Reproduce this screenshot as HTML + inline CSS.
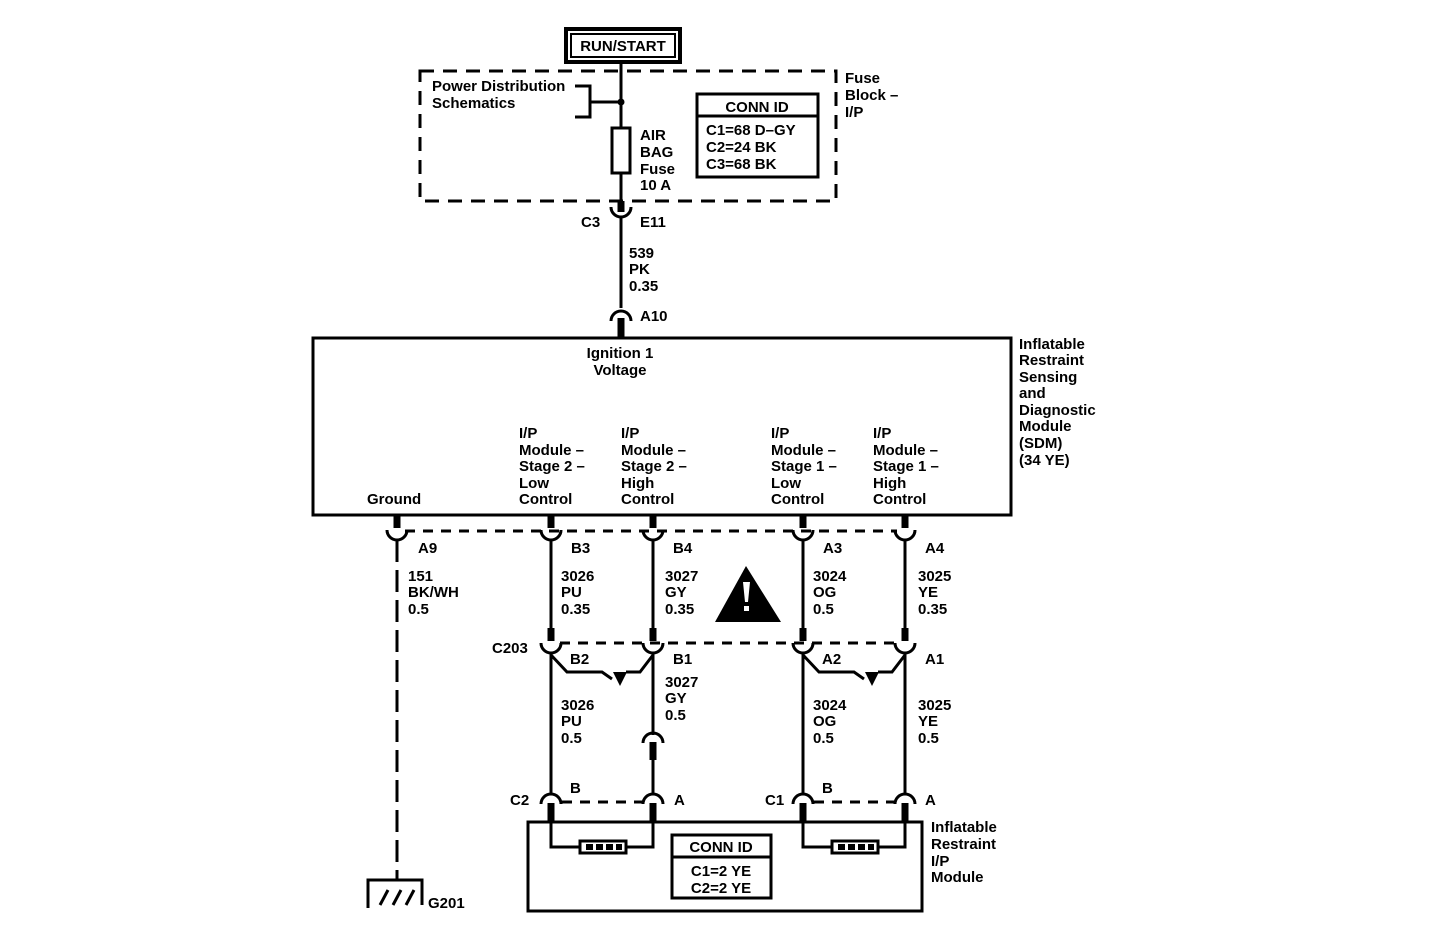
<!DOCTYPE html>
<html><head><meta charset="utf-8"><style>
html,body{margin:0;padding:0;background:#fff;}
svg{display:block}
text{font-family:"Liberation Sans",Arial,sans-serif;font-size:15px;fill:#000;font-weight:bold;}
</style></head><body>
<svg width="1440" height="934" viewBox="0 0 1440 934" xmlns="http://www.w3.org/2000/svg">
<g stroke="#000" fill="none" stroke-width="3">
<rect x="566" y="29" width="114" height="33" stroke-width="4"/>
<rect x="571" y="34" width="104" height="23" stroke-width="2"/>
<rect x="420" y="71" width="416" height="130" stroke-dasharray="14,9"/>
<line x1="621" y1="62" x2="621" y2="128"/>
<line x1="621" y1="173" x2="621" y2="201"/>
<rect x="612" y="128" width="18" height="45"/>
<polyline points="575,86 590,86 590,117 575,117"/>
<line x1="590" y1="102" x2="621" y2="102"/>
<rect x="697" y="94" width="121" height="83"/>
<line x1="697" y1="116" x2="818" y2="116"/>
<line x1="621" y1="201" x2="621" y2="212" stroke-width="7"/>
<path d="M611,207 A10,10 0 0 0 631,207"/>
<line x1="621" y1="217" x2="621" y2="308"/>
<path d="M611,321 A10,10 0 0 1 631,321"/>
<line x1="621" y1="318" x2="621" y2="337" stroke-width="7"/>
<rect x="313" y="338" width="698" height="177"/>
<line x1="405" y1="531" x2="897" y2="531" stroke-dasharray="10,8"/>
<line x1="560" y1="643" x2="897" y2="643" stroke-dasharray="10,8"/>
<line x1="562" y1="802" x2="645" y2="802" stroke-dasharray="10,8"/>
<line x1="814" y1="802" x2="897" y2="802" stroke-dasharray="10,8"/>
<line x1="397" y1="515" x2="397" y2="528" stroke-width="7"/>
<path d="M387,530 A10,10 0 0 0 407,530"/>
<line x1="397" y1="540" x2="397" y2="880" stroke-dasharray="22,8"/>
<polyline points="368,908 368,880 422,880 422,905"/>
<line x1="380" y1="905" x2="388" y2="890"/>
<line x1="393" y1="905" x2="401" y2="890"/>
<line x1="406" y1="905" x2="414" y2="890"/>
<rect x="528" y="822" width="394" height="89"/>
<rect x="672" y="835" width="99" height="63"/>
<line x1="672" y1="857" x2="771" y2="857"/>
<polyline points="551,655 567,672 602,672 612,679"/>
<polyline points="626,672 640,672 653,655"/>
<polyline points="803,655 819,672 854,672 864,679"/>
<polyline points="878,672 892,672 905,655"/>
</g>
<g fill="#000">
<circle cx="621" cy="102" r="3.5"/>
<polygon points="613,672 627,672 620,686"/>
<polygon points="865,672 879,672 872,686"/>
<polygon points="746,566 781,622 715,622"/>
</g>
<path d="M743,582 h7 l-2,20 h-3 z M744,606 h5 v5 h-5 z" fill="#fff"/>
<g stroke="#000" fill="none" stroke-width="3">
<line x1="551" y1="515" x2="551" y2="528" stroke-width="7"/><path d="M541,530 A10,10 0 0 0 561,530"/>
<line x1="551" y1="540" x2="551" y2="628"/><line x1="551" y1="628" x2="551" y2="641" stroke-width="7"/>
<path d="M541,643 A10,10 0 0 0 561,643"/><line x1="551" y1="653" x2="551" y2="795"/>
<path d="M541,804 A10,10 0 0 1 561,804"/><line x1="551" y1="803" x2="551" y2="822" stroke-width="7"/>
<polyline points="551,822 551,847 580,847"/><polyline points="626,847 653,847 653,822"/>
<line x1="653" y1="515" x2="653" y2="528" stroke-width="7"/><path d="M643,530 A10,10 0 0 0 663,530"/>
<line x1="653" y1="540" x2="653" y2="628"/><line x1="653" y1="628" x2="653" y2="641" stroke-width="7"/>
<path d="M643,643 A10,10 0 0 0 663,643"/><line x1="653" y1="653" x2="653" y2="735"/>
<path d="M643,743 A10,10 0 0 1 663,743"/><line x1="653" y1="742" x2="653" y2="760" stroke-width="7"/>
<line x1="653" y1="760" x2="653" y2="795"/>
<path d="M643,804 A10,10 0 0 1 663,804"/><line x1="653" y1="803" x2="653" y2="822" stroke-width="7"/>
<line x1="803" y1="515" x2="803" y2="528" stroke-width="7"/><path d="M793,530 A10,10 0 0 0 813,530"/>
<line x1="803" y1="540" x2="803" y2="628"/><line x1="803" y1="628" x2="803" y2="641" stroke-width="7"/>
<path d="M793,643 A10,10 0 0 0 813,643"/><line x1="803" y1="653" x2="803" y2="795"/>
<path d="M793,804 A10,10 0 0 1 813,804"/><line x1="803" y1="803" x2="803" y2="822" stroke-width="7"/>
<polyline points="803,822 803,847 832,847"/><polyline points="878,847 905,847 905,822"/>
<line x1="905" y1="515" x2="905" y2="528" stroke-width="7"/><path d="M895,530 A10,10 0 0 0 915,530"/>
<line x1="905" y1="540" x2="905" y2="628"/><line x1="905" y1="628" x2="905" y2="641" stroke-width="7"/>
<path d="M895,643 A10,10 0 0 0 915,643"/><line x1="905" y1="653" x2="905" y2="795"/>
<path d="M895,804 A10,10 0 0 1 915,804"/><line x1="905" y1="803" x2="905" y2="822" stroke-width="7"/>
<rect x="580" y="841" width="46" height="12"/>
<rect x="832" y="841" width="46" height="12"/>
</g>
<g fill="#000">
<rect x="586" y="844" width="7" height="6"/><rect x="596" y="844" width="7" height="6"/><rect x="606" y="844" width="7" height="6"/><rect x="616" y="844" width="6" height="6"/>
<rect x="838" y="844" width="7" height="6"/><rect x="848" y="844" width="7" height="6"/><rect x="858" y="844" width="7" height="6"/><rect x="868" y="844" width="6" height="6"/>
</g>
<text x="623" y="51" text-anchor="middle" font-size="16">RUN/START</text>
<text x="432" y="91">Power Distribution</text><text x="432" y="108">Schematics</text>
<text x="640" y="140">AIR</text><text x="640" y="157">BAG</text><text x="640" y="174">Fuse</text><text x="640" y="190">10 A</text>
<text x="757" y="112" text-anchor="middle">CONN ID</text>
<text x="706" y="135">C1=68 D–GY</text><text x="706" y="152">C2=24 BK</text><text x="706" y="169">C3=68 BK</text>
<text x="845" y="83">Fuse</text><text x="845" y="100">Block –</text><text x="845" y="117">I/P</text>
<text x="581" y="227">C3</text><text x="640" y="227">E11</text>
<text x="629" y="258">539</text><text x="629" y="274">PK</text><text x="629" y="291">0.35</text>
<text x="640" y="321">A10</text>
<text x="620" y="358" text-anchor="middle">Ignition 1</text><text x="620" y="375" text-anchor="middle">Voltage</text>
<text x="1019" y="349">Inflatable</text><text x="1019" y="365">Restraint</text><text x="1019" y="382">Sensing</text><text x="1019" y="398">and</text><text x="1019" y="415">Diagnostic</text><text x="1019" y="431">Module</text><text x="1019" y="448">(SDM)</text><text x="1019" y="465">(34 YE)</text>
<text x="367" y="504">Ground</text>
<text x="519" y="438">I/P</text><text x="519" y="455">Module –</text><text x="519" y="471">Stage 2 –</text><text x="519" y="488">Low</text><text x="519" y="504">Control</text>
<text x="621" y="438">I/P</text><text x="621" y="455">Module –</text><text x="621" y="471">Stage 2 –</text><text x="621" y="488">High</text><text x="621" y="504">Control</text>
<text x="771" y="438">I/P</text><text x="771" y="455">Module –</text><text x="771" y="471">Stage 1 –</text><text x="771" y="488">Low</text><text x="771" y="504">Control</text>
<text x="873" y="438">I/P</text><text x="873" y="455">Module –</text><text x="873" y="471">Stage 1 –</text><text x="873" y="488">High</text><text x="873" y="504">Control</text>
<text x="418" y="553">A9</text><text x="571" y="553">B3</text><text x="673" y="553">B4</text><text x="823" y="553">A3</text><text x="925" y="553">A4</text>
<text x="408" y="581">151</text><text x="408" y="597">BK/WH</text><text x="408" y="614">0.5</text>
<text x="561" y="581">3026</text><text x="561" y="597">PU</text><text x="561" y="614">0.35</text>
<text x="665" y="581">3027</text><text x="665" y="597">GY</text><text x="665" y="614">0.35</text>
<text x="813" y="581">3024</text><text x="813" y="597">OG</text><text x="813" y="614">0.5</text>
<text x="918" y="581">3025</text><text x="918" y="597">YE</text><text x="918" y="614">0.35</text>
<text x="492" y="653">C203</text>
<text x="570" y="664">B2</text><text x="673" y="664">B1</text><text x="822" y="664">A2</text><text x="925" y="664">A1</text>
<text x="665" y="687">3027</text><text x="665" y="703">GY</text><text x="665" y="720">0.5</text>
<text x="561" y="710">3026</text><text x="561" y="726">PU</text><text x="561" y="743">0.5</text>
<text x="813" y="710">3024</text><text x="813" y="726">OG</text><text x="813" y="743">0.5</text>
<text x="918" y="710">3025</text><text x="918" y="726">YE</text><text x="918" y="743">0.5</text>
<text x="510" y="805">C2</text><text x="570" y="793">B</text><text x="674" y="805">A</text>
<text x="765" y="805">C1</text><text x="822" y="793">B</text><text x="925" y="805">A</text>
<text x="721" y="852" text-anchor="middle">CONN ID</text>
<text x="721" y="876" text-anchor="middle">C1=2 YE</text><text x="721" y="893" text-anchor="middle">C2=2 YE</text>
<text x="931" y="832">Inflatable</text><text x="931" y="849">Restraint</text><text x="931" y="866">I/P</text><text x="931" y="882">Module</text>
<text x="428" y="908">G201</text>
</svg>
</body></html>
